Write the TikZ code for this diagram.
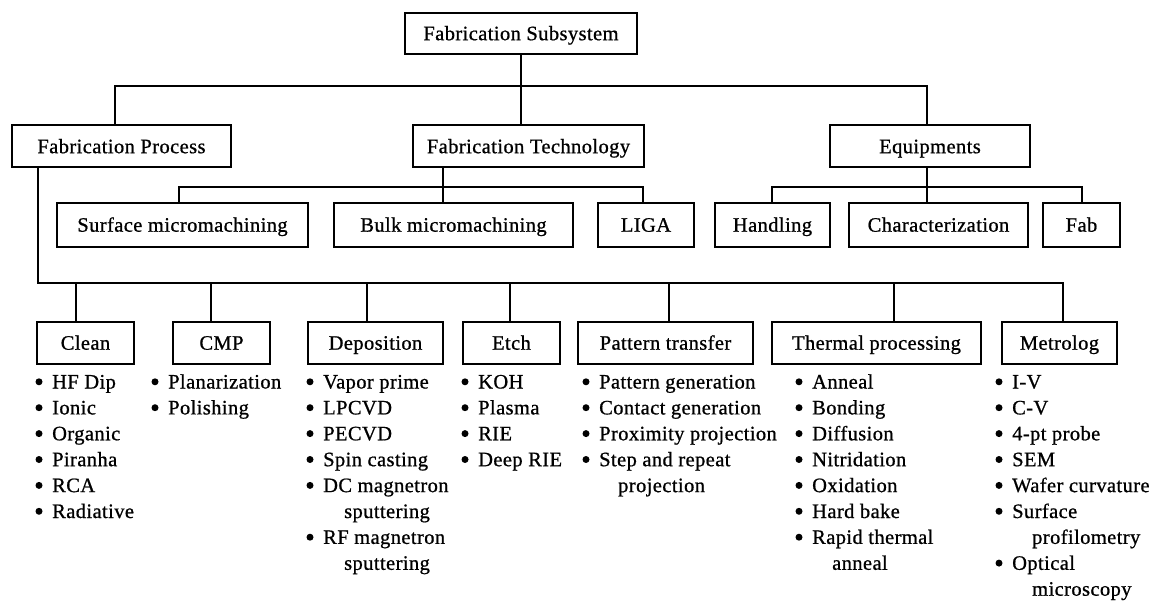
\documentclass[tikz,border=0pt]{standalone}
\usepackage{fontspec}
\setmainfont[LetterSpace=2,FakeBold=0.8]{Liberation Serif}
\newcommand\labelfont{\fontsize{20.5}{24}\selectfont}
\begin{document}
\begin{tikzpicture}[x=1pt,y=-1pt,
  box/.style={draw, line width=2pt, inner sep=0pt, text height=13.4pt,
              text depth=0pt, font=\labelfont},
  link/.style={line width=2pt},
  item/.style={anchor=base west, inner sep=0pt, font=\labelfont},
  dot/.style={fill=black}]

% canvas
\fill[white] (0,0) rectangle (1151,601);
\useasboundingbox (0,0) rectangle (1151,601);

% ---- level 0 and 1
\node[box, minimum width=232, minimum height=41] (sub)  at (521,33.5)   {Fabrication Subsystem};
\node[box, minimum width=219, minimum height=42] (fp)   at (121.5,146.5) {Fabrication Process};
\node[box, minimum width=231, minimum height=42] (ft)   at (528.5,146.5) {Fabrication Technology};
\node[box, minimum width=200, minimum height=42] (eq)   at (930,146.5)   {Equipments};

% ---- technologies and equipment
\node[box, minimum width=251, minimum height=44] (sm)   at (182.5,225) {Surface micromachining};
\node[box, minimum width=239, minimum height=44] (bm)   at (453.5,225) {Bulk micromachining};
\node[box, minimum width=96,  minimum height=44] (liga) at (646,225)   {LIGA};
\node[box, minimum width=115, minimum height=44] (hand) at (772.5,225) {Handling};
\node[box, minimum width=179, minimum height=44] (char) at (938.5,225) {Characterization};
\node[box, minimum width=77,  minimum height=44] (fab)  at (1081.5,225) {Fab};

% ---- process steps
\node[box, minimum width=97,  minimum height=42] (clean) at (85.5,343)  {Clean};
\node[box, minimum width=97,  minimum height=42] (cmp)   at (221.5,343) {CMP};
\node[box, minimum width=135, minimum height=42] (dep)   at (375.5,343) {Deposition};
\node[box, minimum width=97,  minimum height=42] (etch)  at (511.5,343) {Etch};
\node[box, minimum width=175, minimum height=42] (pat)   at (665.5,343) {Pattern transfer};
\node[box, minimum width=209, minimum height=42] (therm) at (876.5,343) {Thermal processing};
\node[box, minimum width=115, minimum height=42] (met)   at (1059.5,343) {Metrolog};

% ---- connectors: top level
\coordinate (j0) at (115,86);
\coordinate (j1) at (927,86);
\draw[link] (sub.south) -- (sub.south |- ft.north);
\draw[link] (fp.north -| j0) -- (j0) -- (j1) -- (eq.north -| j1);

% ---- connectors: technologies
\coordinate (t0) at (179,187);
\coordinate (tc) at (443,187);
\coordinate (t1) at (643,187);
\draw[link] (ft.south -| tc) -- (bm.north -| tc);
\draw[link] (sm.north -| t0) -- (t0) -- (t1) -- (liga.north -| t1);

% ---- connectors: equipment
\coordinate (e0) at (772,187);
\coordinate (ec) at (927,187);
\coordinate (e1) at (1082,187);
\draw[link] (eq.south -| ec) -- (char.north -| ec);
\draw[link] (hand.north -| e0) -- (e0) -- (e1) -- (fab.north -| e1);

% ---- connectors: process steps
\coordinate (p0) at (38,283);
\coordinate (p1) at (1063,283);
\draw[link] (fp.south -| p0) -- (p0) -- (p1) -- (met.north -| p1);
\foreach \n/\x in {clean/76, cmp/211, dep/367, etch/510, pat/669, therm/894} {
  \coordinate (s-\n) at (\x,283);
  \draw[link] (s-\n) -- (s-\n |- \n.north);
}

% ---- bullet lists (rows 25.9 apart, first baseline at 388.5)
\foreach \n/\x/\items in {
    clean/52/{0/HF Dip,1/Ionic,2/Organic,3/Piranha,4/RCA,5/Radiative},
    cmp/168/{0/Planarization,1/Polishing},
    dep/323/{0/Vapor prime,1/LPCVD,2/PECVD,3/Spin casting,4/DC magnetron,6/RF magnetron},
    etch/478/{0/KOH,1/Plasma,2/RIE,3/Deep RIE},
    pat/599/{0/Pattern generation,1/Contact generation,2/Proximity projection,3/Step and repeat},
    therm/812/{0/Anneal,1/Bonding,2/Diffusion,3/Nitridation,4/Oxidation,5/Hard bake,6/Rapid thermal},
    met/1012/{0/I-V,1/C-V,2/4-pt probe,3/SEM,4/Wafer curvature,5/Surface,7/Optical}} {
  \foreach \r/\t in \items {
    \node[item] (\n-\r) at (\x,388.5+25.9*\r) {\t};
    \fill[dot] ([shift={(-13,-6.7)}]\n-\r.base west) circle[radius=3.5pt];
  }
}

% ---- wrapped second lines
\foreach \n/\x/\r/\t in {dep/344/5/sputtering, dep/344/7/sputtering,
    pat/618/4/projection, therm/832/7/anneal,
    met/1032/6/profilometry, met/1032/8/microscopy} {
  \node[item] (\n-\r) at (\x,388.5+25.9*\r) {\t};
}
\end{tikzpicture}
\end{document}
